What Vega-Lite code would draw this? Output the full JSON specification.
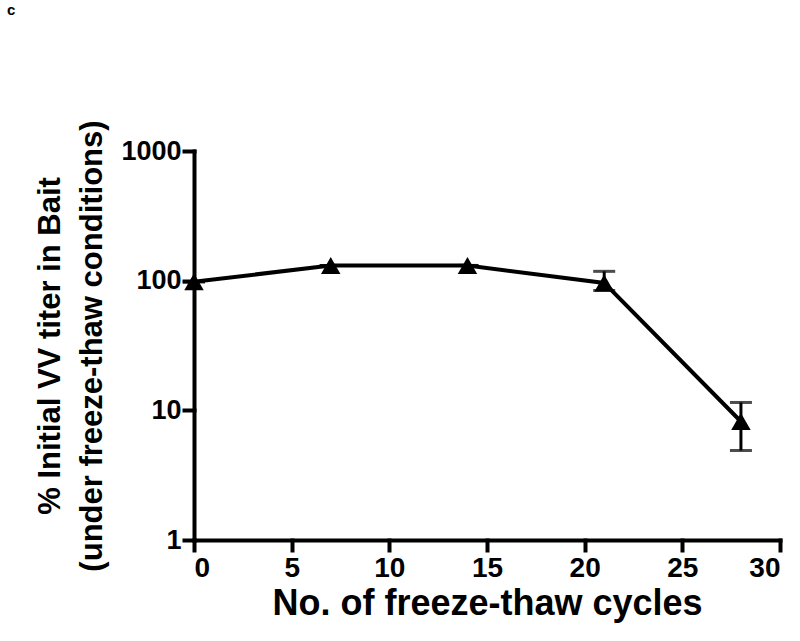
{
  "$schema": "https://vega.github.io/schema/vega-lite/v6.json",
  "autosize": "none",
  "width": 586,
  "height": 389,
  "padding": {"left": 194, "top": 151, "right": 20, "bottom": 101},
  "background": "white",
  "title": {"text": "c", "anchor": "start", "frame": "group", "baseline": "bottom", "fontSize": 15, "fontWeight": "bold", "font": "Liberation Sans", "color": "black", "dx": -187, "offset": 87},
  "config": {
    "view": {"stroke": null},
    "axis": {"grid": false, "domainColor": "black", "domainWidth": 4, "tickColor": "black", "tickWidth": 4, "tickSize": 10, "labelFont": "Liberation Sans", "labelFontWeight": "bold", "labelFontSize": 27, "labelColor": "black", "titleFont": "Liberation Sans", "titleFontWeight": "bold", "titleFontSize": 31, "titleColor": "black", "tickCap": "square", "domainCap": "square"}
  },
  "data": {"values": [
    {"cycles": 0, "titer": 98, "lo": 98, "hi": 98},
    {"cycles": 7, "titer": 131, "lo": 131, "hi": 131},
    {"cycles": 14, "titer": 131, "lo": 131, "hi": 131},
    {"cycles": 21, "titer": 96, "lo": 84, "hi": 118},
    {"cycles": 28, "titer": 8.2, "lo": 4.9, "hi": 11.5}
  ]},
  "encoding": {
    "x": {"field": "cycles", "type": "quantitative", "scale": {"domain": [0, 30], "nice": false}, "axis": {"values": [0, 5, 10, 15, 20, 25, 30], "title": "No. of freeze-thaw cycles", "labelFontSize": 28, "titleFontSize": 36, "labelPadding": 4, "titlePadding": 4}}
  },
  "layer": [
    {"mark": {"type": "line", "color": "black", "strokeWidth": 4, "clip": false},
     "encoding": {"y": {"field": "titer", "type": "quantitative", "scale": {"type": "log", "domain": [1, 1000]}, "axis": {"values": [1, 10, 100, 1000], "format": "d", "title": ["% Initial VV titer in Bait", "(under freeze-thaw conditions)"], "titleLineHeight": 42, "labelPadding": 3, "titlePadding": 12}}}},
    {"mark": {"type": "rule", "color": "black", "strokeWidth": 3},
     "encoding": {"y": {"field": "lo", "type": "quantitative"}, "y2": {"field": "hi"}}},
    {"mark": {"type": "tick", "color": "black", "orient": "horizontal", "size": 22, "thickness": 3},
     "encoding": {"y": {"field": "hi", "type": "quantitative"}}},
    {"mark": {"type": "tick", "color": "black", "orient": "horizontal", "size": 22, "thickness": 3},
     "encoding": {"y": {"field": "lo", "type": "quantitative"}}},
    {"mark": {"type": "point", "shape": "triangle-up", "filled": true, "color": "black", "opacity": 1, "size": 380, "clip": false},
     "encoding": {"y": {"field": "titer", "type": "quantitative"}}}
  ]
}
